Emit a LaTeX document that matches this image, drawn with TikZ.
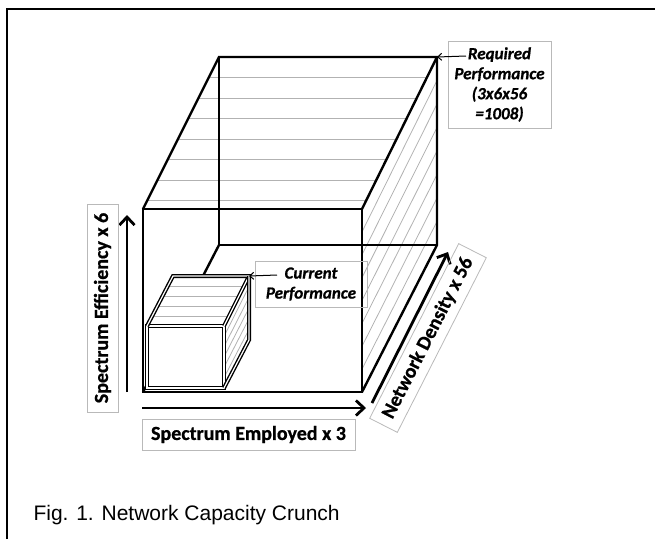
\documentclass[tikz,border=0pt]{standalone}
\usepackage{fontspec}
\newfontfamily\lblfont{Carlito}[BoldFeatures={FakeBold=0.8},BoldItalicFeatures={FakeBold=0.8}]
\newfontfamily\capfont{Liberation Sans}
\usetikzlibrary{calc,arrows.meta}

\begin{document}
\begin{tikzpicture}[x=1pt,y=-1pt,
        edge/.style={line width=2.4pt,line join=miter},
        hatch/.style={line width=0.8pt,gray!60},
        cube/.style={line width=1.4pt,double=white,double distance=1.2pt,line join=miter},
        axis/.style={line width=2.8pt,-{Straight Barb[length=8pt,width=15pt]}},
        callout/.style={line width=1pt,-{Straight Barb[length=4pt,width=7pt]}},
        axislabel/.style={draw=gray!55,line width=0.8pt,inner sep=0pt,
            font=\lblfont\bfseries\fontsize{20}{24}\selectfont},
        perf/.style={draw=gray!55,line width=0.8pt,inner sep=0pt,align=center,
            font=\lblfont\bfseries\itshape\fontsize{17}{20}\selectfont}]
    \useasboundingbox (0,0) rectangle (655,539);

    % page frame
    \draw[line width=2pt] (7,539) -- (7,9) -- (655,9);

    % big box: front face F, back face B
    \coordinate (F1) at (143,209);
    \coordinate (F2) at (362,209);
    \coordinate (F3) at (362,392);
    \coordinate (F4) at (143,392);
    \coordinate (B1) at (219,57);
    \coordinate (B2) at (437,57);
    \coordinate (B3) at (437,245);
    \coordinate (B4) at (219,245);

    \foreach \k in {1,...,7}
    {
        \draw[hatch] ($(B1)!\k*0.135!(F1)$) -- ($(B2)!\k*0.135!(F2)$);
    }
    \foreach \k in {1,...,7}
    {
        \draw[hatch] ($(F2)!\k/8!(F3)$) -- ($(B2)!\k/8!(B3)$);
    }

    \draw[edge] (F1) rectangle (F3);
    \draw[edge] (F1) -- (B1) -- (B2) -- (F2);
    \draw[edge] (B2) -- (B3) -- (F3);
    \draw[edge] (B1) -- (B4) -- (B3);
    \draw[edge] (B4) -- (F4);

    % small box
    \coordinate (sF1) at (147,326);
    \coordinate (sF2) at (224,326);
    \coordinate (sF3) at (224,388);
    \coordinate (sF4) at (147,388);
    \coordinate (sB1) at (173,276);
    \coordinate (sB2) at (249,276);
    \coordinate (sB3) at (249,340);

    \fill[white] (sF4) -- (sF1) -- (sB1) -- (sB2) -- (sB3) -- (sF3) -- cycle;
    \foreach \k in {1,...,4}
    {
        \draw[hatch] ($(sB1)!\k/5!(sF1)$) -- ($(sB2)!\k/5!(sF2)$);
    }
    \foreach \k in {1,...,5}
    {
        \draw[hatch] ($(sF2)!\k/6!(sF3)$) -- ($(sB2)!\k/6!(sB3)$);
    }
    \draw[cube] (sF1) rectangle (sF3);
    \draw[cube] (sF1) -- (sB1) -- (sB2) -- (sF2);
    \draw[cube] (sB2) -- (sB3) -- (sF3);

    % axes
    \coordinate (eff-s) at (127,392);
    \coordinate (eff-e) at (127,215);
    \coordinate (emp-s) at (142,408);
    \coordinate (emp-e) at (366,408);
    \coordinate (den-s) at (372,403);
    \coordinate (den-e) at (448,252);
    \draw[axis] (eff-s) -- (eff-e);
    \draw[axis] (emp-s) -- (emp-e);
    \draw[axis] (den-s) -- (den-e);

    \node[axislabel,rotate=90,minimum width=208,minimum height=31] (effic) at (102.5,308) {Spectrum Efficiency x 6};
    \node[axislabel,minimum width=213,minimum height=31] (employ) at (248.5,434.5) {Spectrum Employed x 3};
    \node[axislabel,rotate=63,minimum width=196,minimum height=31] (dens) at (428,338) {Network Density x 56};

    % performance callouts
    \node[perf,minimum width=103,minimum height=87] (req) at (499.5,84.5) {Required\\Performance\\(3x6x56\\=1008)};
    \coordinate (req-tail) at (466,56);
    \draw[callout] (req-tail) -- (B2);

    \node[perf,minimum width=112,minimum height=46] (cur) at (311,284) {Current\\Performance};
    \coordinate (cur-tail) at (277,275);
    \draw[callout] (cur-tail) -- (sB2);

    \node[anchor=base west,font=\capfont\fontsize{21}{25}\selectfont] (cap) at (30,520) {Fig. 1. Network Capacity Crunch};
\end{tikzpicture}
\end{document}
